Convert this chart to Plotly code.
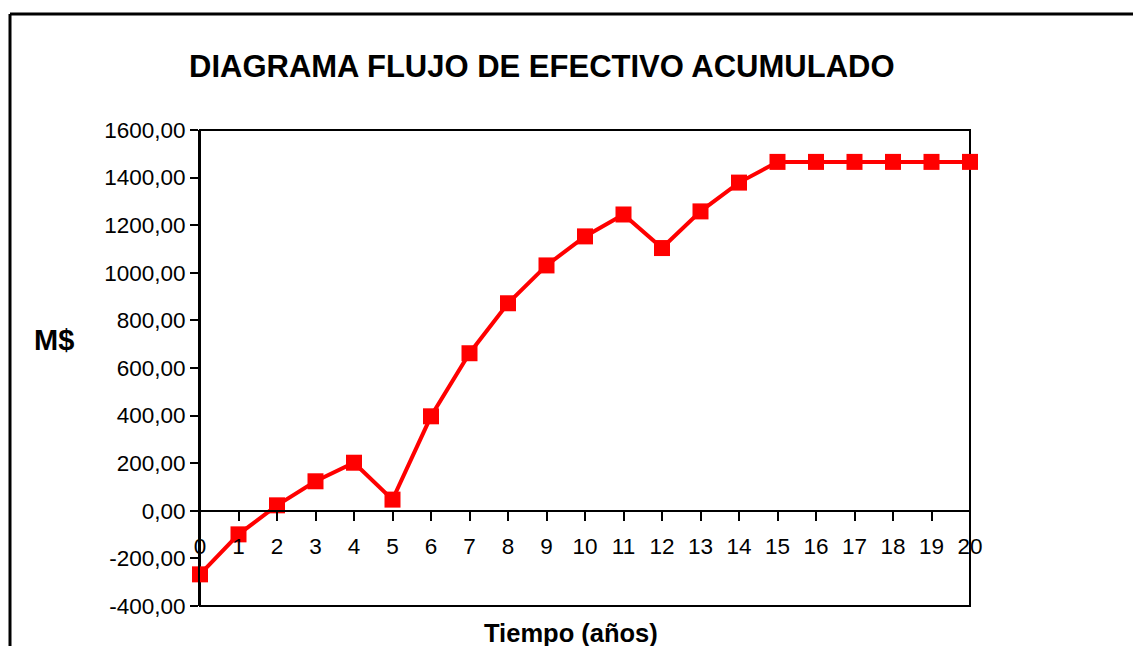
import plotly.graph_objects as go

# Flujo de efectivo acumulado por año (M$)
anios = list(range(0, 21))
flujo_acumulado = [-267, -99, 23, 124, 202, 47, 397, 662, 872, 1031, 1153,
                   1245, 1104, 1258, 1379, 1466, 1466, 1466, 1466, 1466, 1466]

y_ticks = [-400, -200, 0, 200, 400, 600, 800, 1000, 1200, 1400, 1600]
y_tick_labels = ["-400,00", "-200,00", "0,00", "200,00", "400,00", "600,00",
                 "800,00", "1000,00", "1200,00", "1400,00", "1600,00"]
x_ticks = anios
x_tick_labels = [str(a) for a in anios]

W, H = 1133, 646
FONT = "Liberation Sans, Arial, sans-serif"

# plot area in pixels
px_left, px_right, px_top, px_bottom = 200, 970, 130, 606
y_min, y_max = -400, 1600
dom_y = [1 - px_bottom / H, 1 - px_top / H]
dom_x = [px_left / W, px_right / W]
zero_pos = dom_y[0] + (0 - y_min) / (y_max - y_min) * (dom_y[1] - dom_y[0])

fig = go.Figure()
fig.add_trace(go.Scatter(
    x=anios, y=flujo_acumulado, mode="lines+markers",
    line=dict(color="#ff0000", width=4),
    marker=dict(symbol="square", size=16, color="#ff0000"),
    cliponaxis=False, showlegend=False,
))

fig.update_layout(
    width=W, height=H,
    margin=dict(l=0, r=0, t=0, b=0),
    paper_bgcolor="white", plot_bgcolor="white",
    font=dict(family=FONT, color="black"),
    xaxis=dict(
        domain=dom_x, range=[0, 20], anchor="free", position=zero_pos,
        automargin=False,
        tickvals=x_ticks, ticktext=x_tick_labels,
        showgrid=False, zeroline=False,
        showline=True, linecolor="black", linewidth=2,
        ticks="outside", ticklen=9, tickwidth=2, tickcolor="black",
        ticklabelstandoff=6,
        tickfont=dict(size=22.5, family=FONT, color="black"),
    ),
    yaxis=dict(
        domain=dom_y, range=[y_min, y_max],
        automargin=False,
        tickvals=y_ticks, ticktext=y_tick_labels,
        showgrid=False, zeroline=False,
        showline=True, linecolor="black", linewidth=2,
        ticks="outside", ticklen=8, tickwidth=2, tickcolor="black",
        tickfont=dict(size=22.5, family=FONT, color="black"),
    ),
    shapes=[
        # marco del área de trazado
        dict(type="rect", xref="x domain", yref="y domain", x0=0, x1=1, y0=0, y1=1,
             line=dict(color="black", width=2), layer="below"),
        # bordes superior e izquierdo del marco exterior
        dict(type="line", xref="paper", yref="paper",
             x0=10 / W, x1=1, y0=1 - 14 / H, y1=1 - 14 / H,
             line=dict(color="black", width=3)),
        dict(type="line", xref="paper", yref="paper",
             x0=10 / W, x1=10 / W, y0=0, y1=1 - 14 / H,
             line=dict(color="black", width=3)),
    ],
    annotations=[
        dict(text="<b>DIAGRAMA FLUJO DE EFECTIVO ACUMULADO</b>", xref="paper", yref="paper",
             x=542 / W, y=1 - 67 / H, showarrow=False, xanchor="center", yanchor="middle",
             font=dict(size=31, family=FONT, color="black")),
        dict(text="<b>M$</b>", xref="paper", yref="paper",
             x=54 / W, y=1 - 340 / H, showarrow=False, xanchor="center", yanchor="middle",
             font=dict(size=29, family=FONT, color="black")),
        dict(text="<b>Tiempo (años)</b>", xref="paper", yref="paper",
             x=571 / W, y=1 - 633 / H, showarrow=False, xanchor="center", yanchor="middle",
             font=dict(size=25.5, family=FONT, color="black")),
    ],
)

fig.write_html("out.html")
